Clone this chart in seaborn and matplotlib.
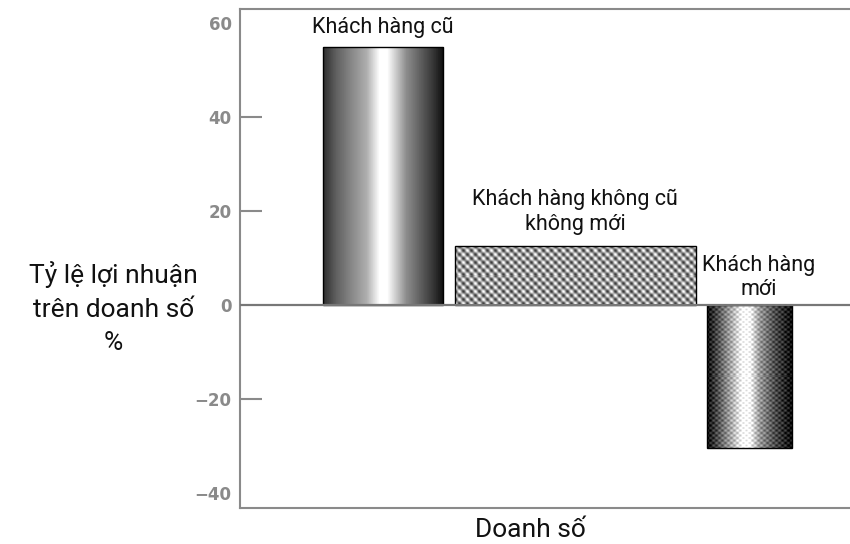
import numpy as np
import matplotlib
matplotlib.use("Agg")
import matplotlib.pyplot as plt
import matplotlib.font_manager as font_manager
import seaborn as sns

# dữ liệu
nhom_khach = ["Khách hàng cũ", "Khách hàng không cũ\nkhông mới", "Khách hàng\nmới"]
ty_le_loi_nhuan = [55, 12.5, -30.5]      # % lợi nhuận trên doanh số
ty_trong_doanh_so = [19.7, 39.5, 13.9]   # bề rộng cột theo doanh số
y_ticks = [-40, -20, 0, 20, 40, 60]
ticks_co_vach = [-20, 20, 40]


def chon_font():
    "Chọn font hẹp nếu có"
    names = {f.name for f in font_manager.fontManager.ttflist}
    for n in ["Liberation Sans Narrow", "Roboto", "DejaVu Sans"]:
        if n in names:
            return n
    return "DejaVu Sans"


sns.set_style("white")
FONT = chon_font()
plt.rcParams['font.family'] = [FONT, 'DejaVu Sans']
GRIS = '#8a8a8a'

fig = plt.figure(figsize=(8.5, 5.44), dpi=100)
ax = fig.add_axes([240 / 850, 1 - 508 / 544, 610 / 850, 499 / 544])

sns.barplot(x=list(range(len(nhom_khach))), y=ty_le_loi_nhuan, ax=ax,
            color='white', edgecolor='black', linewidth=1, native_scale=True)

# đặt lại vị trí / bề rộng cột theo doanh số
x0, gap = 13.6, 1.9
lefts = []
pos = x0
for w in ty_trong_doanh_so:
    lefts.append(pos)
    pos += w + gap

bars = list(ax.patches)[:len(nhom_khach)]
for b, l, w in zip(bars, lefts, ty_trong_doanh_so):
    b.set_x(l)
    b.set_width(w)
    b.set_facecolor('none')
    b.set_zorder(4)


def tex_tru(prof_x, prof_y, n=300):
    t = np.linspace(0, 1, n)
    return np.interp(t, prof_x, prof_y)


def tex_cot1():
    p = tex_tru([0, 0.11, 0.36, 0.47, 0.53, 0.69, 0.92, 1],
                [0.18, 0.38, 0.68, 1.0, 1.0, 0.55, 0.2, 0.05])
    return np.tile(p, (20, 1))


def tex_cot2():
    yy, xx = np.indices((58, 241))
    dot = np.cos(2 * np.pi * xx / 8) * np.cos(2 * np.pi * yy / 8)
    v = 0.62 + 0.28 * dot + 0.1 * np.cos(2 * np.pi * (xx - yy) / 8)
    return np.clip(v, 0, 1)


def tex_cot3():
    p = tex_tru([0, 0.12, 0.3, 0.42, 0.5, 0.62, 0.8, 1],
                [0.05, 0.3, 0.7, 1.0, 1.0, 0.6, 0.3, 0.05], n=85)
    yy, xx = np.indices((143, 85))
    v = p[None, :] + 0.15 * np.cos(2 * np.pi * yy / 5) * np.cos(2 * np.pi * xx / 6)
    return np.clip(v, 0, 1)


textures = [tex_cot1(), tex_cot2(), tex_cot3()]
for b, img in zip(bars, textures):
    x_l, x_r = b.get_x(), b.get_x() + b.get_width()
    y_b, y_t = sorted([b.get_y(), b.get_y() + b.get_height()])
    im = ax.imshow(img, cmap='gray', vmin=0, vmax=1, aspect='auto',
                   extent=[x_l, x_r, y_b, y_t], interpolation='nearest', zorder=3)
    im.set_clip_path(b)

# nhãn trên cột
lech_x = [0, 0, 1.5]
lech_y = [1.8, 2.5, 1.0]
for b, ten, v, dx, dy in zip(bars, nhom_khach, ty_le_loi_nhuan, lech_x, lech_y):
    cx = b.get_x() + b.get_width() / 2 + dx
    ax.text(cx, max(v, 0) + dy, ten, ha='center', va='bottom',
            fontsize=15.5, linespacing=1.2, color='#111111', zorder=5)

ax.axhline(0, color='#777777', lw=1.6, zorder=5)
ax.set_xlim(0, 100)
ax.set_ylim(-43.2, 63)
ax.set_xticks([])
ax.set_yticks(y_ticks)
ax.set_yticklabels([f"{t:d}".replace('-', '\u2212') for t in y_ticks],
                   color=GRIS, fontsize=12, fontweight='bold', family='DejaVu Sans')
ax.tick_params(axis='y', direction='in', length=16, width=1.5, color=GRIS, pad=6, left=True)
for t, tick in zip(y_ticks, ax.yaxis.get_major_ticks()):
    if t not in ticks_co_vach:
        tick.tick1line.set_visible(False)

ax.spines['right'].set_visible(False)
for s in ['left', 'top', 'bottom']:
    ax.spines[s].set_color(GRIS)
    ax.spines[s].set_linewidth(1.5)

ax.set_ylabel("Tỷ lệ lợi nhuận\ntrên doanh số\n%", rotation=0, fontsize=19,
              ha='center', va='center', linespacing=1.5, color='#111111')
ax.yaxis.set_label_coords(-0.208, 0.40)
ax.set_xlabel("")
fig.text(530 / 850, 1 - 530 / 544, "Doanh số", ha='center', va='center',
         fontsize=19, color='#111111')

plt.savefig('out.png', dpi=100)
